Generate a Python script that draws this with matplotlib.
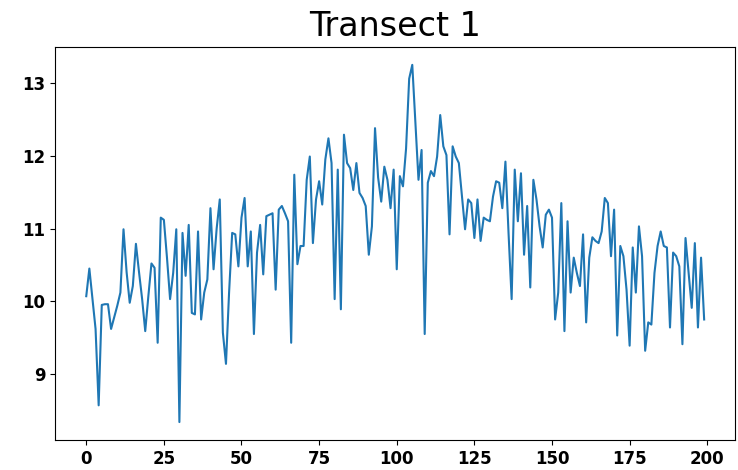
import numpy as np
import matplotlib
matplotlib.use("Agg")
import matplotlib.pyplot as plt

# elevation readings along transect 1 (one value per sample, 0..199)
vals_0_49 = [10.07, 10.45, 10.03, 9.62, 8.57, 9.95, 9.96, 9.96, 9.62, 9.78,
             9.94, 10.12, 10.99, 10.40, 9.98, 10.21, 10.79, 10.40, 10.03, 9.59,
             10.07, 10.52, 10.46, 9.43, 11.15, 11.12, 10.60, 10.03, 10.39, 10.99,
             8.34, 10.94, 10.35, 11.05, 9.84, 9.82, 10.96, 9.75, 10.12, 10.30,
             11.28, 10.44, 11.00, 11.40, 9.57, 9.14, 10.12, 10.94, 10.92, 10.48]
vals_50_99 = [11.15, 11.42, 10.48, 10.96, 9.55, 10.67, 11.05, 10.37, 11.17, 11.19,
              11.21, 10.16, 11.26, 11.31, 11.21, 11.10, 9.43, 11.74, 10.51, 10.76,
              10.76, 11.67, 11.99, 10.80, 11.40, 11.65, 11.33, 11.95, 12.24, 11.90,
              10.03, 11.81, 9.89, 12.29, 11.90, 11.83, 11.53, 11.90, 11.49, 11.42,
              11.31, 10.64, 11.03, 12.38, 11.70, 11.37, 11.85, 11.67, 11.28, 11.81]
vals_100_149 = [10.44, 11.72, 11.58, 12.10, 13.06, 13.25, 12.45, 11.67, 12.08, 9.55,
                11.63, 11.79, 11.72, 11.99, 12.56, 12.13, 12.01, 10.92, 12.13, 11.99,
                11.90, 11.44, 10.99, 11.40, 11.35, 10.87, 11.40, 10.83, 11.15, 11.12,
                11.10, 11.44, 11.65, 11.63, 11.28, 11.92, 10.94, 10.03, 11.81, 11.10,
                11.76, 10.64, 11.31, 10.19, 11.67, 11.40, 11.03, 10.74, 11.19, 11.26]
vals_150_199 = [11.15, 9.75, 10.12, 11.35, 9.59, 11.10, 10.12, 10.60, 10.39, 10.21,
                10.92, 9.71, 10.60, 10.88, 10.83, 10.80, 10.96, 11.42, 11.35, 10.62,
                11.26, 9.53, 10.76, 10.62, 10.16, 9.39, 10.74, 10.12, 11.03, 10.62,
                9.32, 9.71, 9.68, 10.39, 10.76, 10.96, 10.76, 10.74, 9.64, 10.67,
                10.62, 10.48, 9.41, 10.87, 10.39, 9.91, 10.80, 9.64, 10.60, 9.75]

values = vals_0_49 + vals_50_99 + vals_100_149 + vals_150_199
x = np.arange(len(values))

fig = plt.figure(figsize=(7.38, 4.70), dpi=100)
ax = fig.add_axes([0.075, 0.064, 0.921, 0.836])
ax.plot(x, values, color='#1f77b4', linewidth=1.5)

ax.set_title('Transect 1', fontsize=24, pad=8)
ax.set_xticks([0, 25, 50, 75, 100, 125, 150, 175, 200])
ax.set_yticks([9, 10, 11, 12, 13])
ax.tick_params(labelsize=12)
for lab in ax.get_xticklabels() + ax.get_yticklabels():
    lab.set_fontweight('bold')

fig.savefig('out.png', dpi=100)
